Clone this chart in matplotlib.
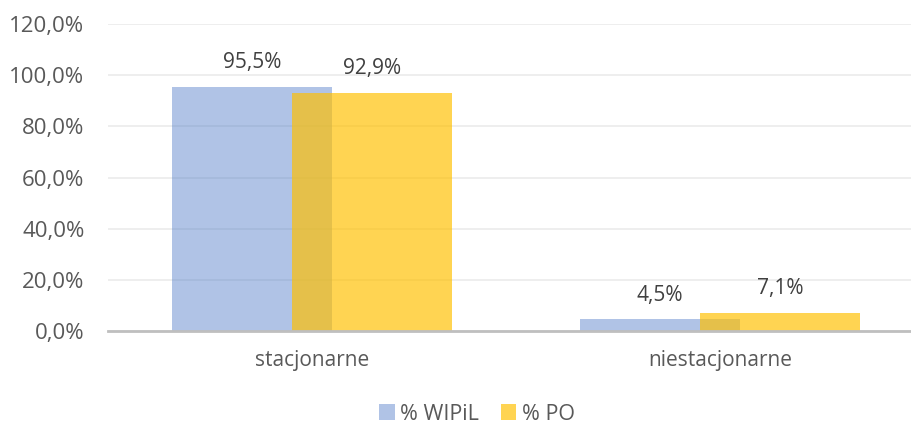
import matplotlib
matplotlib.use("Agg")
import matplotlib.pyplot as plt
from matplotlib.ticker import FuncFormatter
import numpy as np

categories = ["stacjonarne", "niestacjonarne"]
series_names = ["% WIPiL", "% PO"]
wipil = [95.5, 4.5]
po = [92.9, 7.1]
yticks = [0, 20, 40, 60, 80, 100, 120]

plt.rcParams['font.family'] = ['Open Sans', 'DejaVu Sans']

W, H = 912, 423
fig = plt.figure(figsize=(W/100, H/100), dpi=100)
ax = fig.add_axes([108/W, 1-331/H, 1-108/W, (331-24)/H])

x = np.arange(len(categories))
bw = 0.392
off = 0.147
blue = (0x44/255, 0x72/255, 0xC4/255, 0.42)
gold = (1.0, 0xC0/255, 0.0, 0.68)
b1 = ax.bar(x - off, wipil, bw, color=blue, label=series_names[0], zorder=2)
b2 = ax.bar(x + off, po, bw, color=gold, label=series_names[1], zorder=3)

for bars, vals in ((b1, wipil), (b2, po)):
    for r, v in zip(bars, vals):
        ax.annotate(f"{v:.1f}%".replace(".", ","), (r.get_x() + r.get_width()/2, v),
                    xytext=(0, 10), textcoords="offset points", ha="center", va="bottom",
                    fontsize=15, color="#404040", zorder=4)

ax.set_xlim(-0.5, (W - 312) / 408)
ax.set_ylim(0, 120)
ax.set_yticks(yticks)
ax.yaxis.set_major_formatter(FuncFormatter(lambda v, p: f"{v:.1f}%".replace(".", ",")))
ax.set_xticks(x)
ax.set_xticklabels(categories)
ax.tick_params(axis='both', length=0, labelsize=15, colors="#595959")
ax.tick_params(axis='y', labelsize=16, pad=17)
ax.tick_params(axis='x', pad=14)
ax.grid(axis='y', color="#EBEBEB", linewidth=1.2, zorder=0)
for s in ("top", "right", "left"):
    ax.spines[s].set_visible(False)
ax.spines["bottom"].set_color("#BFBFBF")
ax.spines["bottom"].set_linewidth(2)
ax.spines["bottom"].set_zorder(5)

leg = fig.legend(loc="center", bbox_to_anchor=(477/W, 1-414/H), ncol=2, frameon=False,
                 fontsize=15.5, handlelength=0.72, handleheight=0.72, handletextpad=0.25,
                 columnspacing=1.0, labelcolor="#595959")

fig.savefig("out.png", dpi=100)
